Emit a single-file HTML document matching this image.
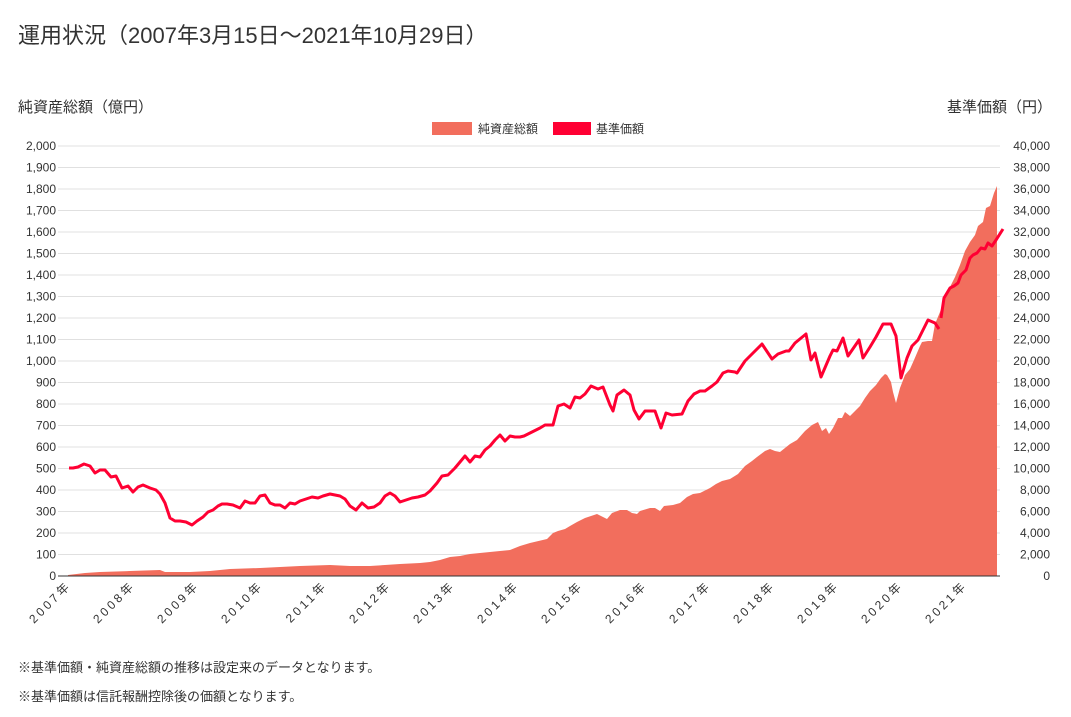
<!DOCTYPE html>
<html><head><meta charset="utf-8"><style>
body{margin:0;background:#fff;width:1071px;height:712px;overflow:hidden;font-family:"Liberation Sans","Noto Sans CJK JP",sans-serif;}
</style></head><body>
<svg width="1071" height="712" xmlns="http://www.w3.org/2000/svg" font-family="Liberation Sans, Noto Sans CJK JP, sans-serif">
<text x="18" y="43" font-size="22" fill="#333">運用状況（2007年3月15日～2021年10月29日）</text>
<text x="18" y="112" font-size="15" fill="#333">純資産総額（億円）</text>
<text x="1052" y="112" font-size="15" fill="#333" text-anchor="end">基準価額（円）</text>
<rect x="432" y="122" width="40" height="13" fill="#f26e5d"/>
<text x="478" y="133" font-size="12" fill="#333">純資産総額</text>
<rect x="553" y="122" width="38" height="13" fill="#ff0033"/>
<text x="596" y="133" font-size="12" fill="#333">基準価額</text>
<g stroke="#e0e0e0" stroke-width="1">
<line x1="58" x2="1000" y1="146" y2="146"/><line x1="58" x2="1000" y1="167.5" y2="167.5"/><line x1="58" x2="1000" y1="189" y2="189"/><line x1="58" x2="1000" y1="210.5" y2="210.5"/><line x1="58" x2="1000" y1="232" y2="232"/><line x1="58" x2="1000" y1="253.5" y2="253.5"/><line x1="58" x2="1000" y1="275" y2="275"/><line x1="58" x2="1000" y1="296.5" y2="296.5"/><line x1="58" x2="1000" y1="318" y2="318"/><line x1="58" x2="1000" y1="339.5" y2="339.5"/><line x1="58" x2="1000" y1="361" y2="361"/><line x1="58" x2="1000" y1="382.5" y2="382.5"/><line x1="58" x2="1000" y1="404" y2="404"/><line x1="58" x2="1000" y1="425.5" y2="425.5"/><line x1="58" x2="1000" y1="447" y2="447"/><line x1="58" x2="1000" y1="468.5" y2="468.5"/><line x1="58" x2="1000" y1="490" y2="490"/><line x1="58" x2="1000" y1="511.5" y2="511.5"/><line x1="58" x2="1000" y1="533" y2="533"/><line x1="58" x2="1000" y1="554.5" y2="554.5"/>
</g>
<g font-size="12" fill="#333" text-anchor="end">
<text x="56" y="150">2,000</text><text x="56" y="171.5">1,900</text><text x="56" y="193">1,800</text><text x="56" y="214.5">1,700</text><text x="56" y="236">1,600</text><text x="56" y="257.5">1,500</text><text x="56" y="279">1,400</text><text x="56" y="300.5">1,300</text><text x="56" y="322">1,200</text><text x="56" y="343.5">1,100</text><text x="56" y="365">1,000</text><text x="56" y="386.5">900</text><text x="56" y="408">800</text><text x="56" y="429.5">700</text><text x="56" y="451">600</text><text x="56" y="472.5">500</text><text x="56" y="494">400</text><text x="56" y="515.5">300</text><text x="56" y="537">200</text><text x="56" y="558.5">100</text><text x="56" y="580">0</text>
</g>
<g font-size="12" fill="#333" text-anchor="end">
<text x="1050" y="150">40,000</text><text x="1050" y="171.5">38,000</text><text x="1050" y="193">36,000</text><text x="1050" y="214.5">34,000</text><text x="1050" y="236">32,000</text><text x="1050" y="257.5">30,000</text><text x="1050" y="279">28,000</text><text x="1050" y="300.5">26,000</text><text x="1050" y="322">24,000</text><text x="1050" y="343.5">22,000</text><text x="1050" y="365">20,000</text><text x="1050" y="386.5">18,000</text><text x="1050" y="408">16,000</text><text x="1050" y="429.5">14,000</text><text x="1050" y="451">12,000</text><text x="1050" y="472.5">10,000</text><text x="1050" y="494">8,000</text><text x="1050" y="515.5">6,000</text><text x="1050" y="537">4,000</text><text x="1050" y="558.5">2,000</text><text x="1050" y="580">0</text>
</g>
<polygon fill="#f26e5d" points="68,576 68,575 85,573 100,572 130,571 160,570 165,572 190,572 210,571 230,569 260,568 300,566 330,565 350,566 370,566 385,565 400,564 420,563 430,562 440,560 450,557 460,556 470,554 480,553 490,552 500,551 510,550 520,546 530,543 547,539 553,533 558,531 565,529 570,526 577,522 585,518 597,514 607,519 612,513 620,510 627,510 632,513 637,514 640,511 650,508 655,508 660,511 664,506 673,505 680,503 687,497 693,494 700,493 710,488 716,484 722,481 730,479 738,474 745,466 752,461 757,457 765,451 770,449 775,451 780,452 785,448 790,444 797,440 805,431 812,425 818,422 822,431 826,428 829,434 833,428 838,418 842,418 845,412 850,416 856,410 860,406 865,398 870,391 876,385 881,378 885,374 887,375 891,382 893,392 896,403 900,388 905,375 910,369 914,360 920,346 922,342 928,341 932,341 935,324 940,312 945,298 950,287 955,277 960,265 965,251 970,242 975,235 978,226 983,222 986,208 990,206 994,193 997,186 997,576"/>
<polyline fill="none" stroke="#ff0033" stroke-width="3" stroke-linejoin="round" points="69,468 73,468 78,467 84,464 90,466 95,473 100,470 105,470 111,477 116,476 122,488 128,486 133,492 138,487 143,485 150,488 156,490 160,494 165,503 170,518 175,521 180,521 186,522 192,525 197,521 203,517 208,512 213,510 218,506 222,504 227,504 233,505 240,508 245,501 250,503 255,503 260,496 265,495 270,503 275,505 280,505 285,508 290,503 295,504 300,501 306,499 312,497 318,498 323,496 330,494 335,495 340,496 345,499 350,506 356,510 362,503 368,508 374,507 380,503 385,496 390,493 395,496 400,502 406,500 412,498 418,497 425,495 430,491 437,483 442,476 448,475 455,468 460,462 465,456 470,462 475,456 480,457 485,450 490,446 495,440 500,435 505,441 510,436 515,437 520,437 524,436 530,433 534,431 540,428 545,425 553,425 558,406 564,404 570,408 575,397 580,398 585,394 591,386 598,389 603,387 610,405 613,411 617,395 624,390 630,395 634,410 639,419 645,411 655,411 661,428 666,413 672,415 682,414 688,401 694,394 700,391 705,391 712,386 717,382 723,373 728,371 735,372 737,373 745,361 750,356 762,344 772,359 778,354 786,351 789,351 795,343 806,334 811,360 815,353 821,377 830,356 833,350 837,351 843,338 848,356 859,340 863,358 870,347 876,337 883,324 891,324 896,336 901,378 907,358 912,346 918,340 928,320 935,323 939,329"/>
<polyline fill="none" stroke="#ff0033" stroke-width="3" stroke-linejoin="round" points="941,318 944,298 950,288 954,286 958,283 961,275 966,270 970,258 973,255 977,253 981,248 985,249 988,243 992,246 996,240 1003,229"/>
<line x1="58" x2="1000" y1="576" y2="576" stroke="#333" stroke-width="1"/>
<g font-size="12" fill="#333" text-anchor="end" letter-spacing="3">
<text transform="translate(72,586) rotate(-45)">2007年</text>
<text transform="translate(136,586) rotate(-45)">2008年</text>
<text transform="translate(200,586) rotate(-45)">2009年</text>
<text transform="translate(264,586) rotate(-45)">2010年</text>
<text transform="translate(328,586) rotate(-45)">2011年</text>
<text transform="translate(392,586) rotate(-45)">2012年</text>
<text transform="translate(456,586) rotate(-45)">2013年</text>
<text transform="translate(520,586) rotate(-45)">2014年</text>
<text transform="translate(584,586) rotate(-45)">2015年</text>
<text transform="translate(648,586) rotate(-45)">2016年</text>
<text transform="translate(712,586) rotate(-45)">2017年</text>
<text transform="translate(776,586) rotate(-45)">2018年</text>
<text transform="translate(840,586) rotate(-45)">2019年</text>
<text transform="translate(904,586) rotate(-45)">2020年</text>
<text transform="translate(968,586) rotate(-45)">2021年</text>
</g>
<text x="18" y="672" font-size="13" fill="#333">※基準価額・純資産総額の推移は設定来のデータとなります。</text>
<text x="18" y="701" font-size="13" fill="#333">※基準価額は信託報酬控除後の価額となります。</text>
</svg>
</body></html>
